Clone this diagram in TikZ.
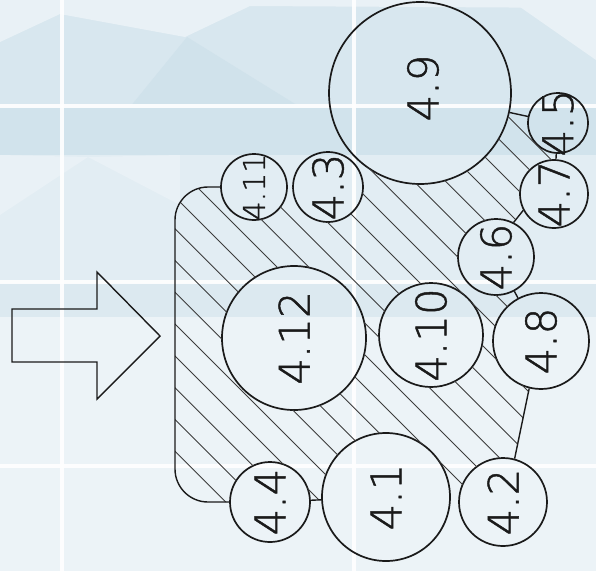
\documentclass[tikz,border=0pt]{standalone}
\usepackage{fontspec}
\newfontfamily\lblfont{DejaVuSans-ExtraLight.ttf}[RawFeature={embolden=1.1}]
\definecolor{bgL}{HTML}{ECF3F7}
\definecolor{bgM}{HTML}{D8E7EF}
\definecolor{bgD}{HTML}{D1E3EC}
\definecolor{bgK}{HTML}{D0E2EB}
\definecolor{bgT}{HTML}{E9F1F6}
\definecolor{bgU}{HTML}{E2EDF3}
\definecolor{bgS}{HTML}{DCE9F0}
\definecolor{ink}{HTML}{1A1A1A}
\begin{document}
\begin{tikzpicture}[x=1pt,y=-1pt,
  ring/.style={circle,draw=ink,line width=1.7pt,inner sep=0pt},
  lab/.style={rotate=90,font=\lblfont\fontsize{42}{42}\selectfont,inner sep=0pt,text=ink},
  conn/.style={draw=ink,line width=1.4pt},
  hatchline/.style={draw=ink!85,line width=0.9pt},
  gridline/.style={draw=white,line width=4pt,opacity=0.9}]
\useasboundingbox (0,0) rectangle (596,571);
% background
\fill[bgL] (0,0) rectangle (596,571);
\fill[bgM] (0,0) rectangle (596,107);
\fill[bgT] (0,0) -- (596,0) -- (596,8) -- (250,6) -- (185,37) -- (60,14) -- (0,42) -- cycle;
\fill[bgK] (130,107) -- (187,37) -- (300,107) -- cycle;
\fill[bgT] (510,0) -- (596,0) -- (596,60) -- cycle;
\fill[bgD] (0,107) rectangle (596,155);
\fill[bgU] (0,155) rectangle (596,283);
\fill[bgT] (0,155) -- (88,157) -- (0,215) -- cycle;
\fill[bgT] (88,157) -- (180,155) -- (180,205) -- cycle;
\fill[bgS] (0,283) rectangle (596,317);
\draw[gridline] (62,0) -- (62,571);
\draw[gridline] (354,0) -- (354,571);
\draw[gridline] (0,106) -- (596,106);
\draw[gridline] (0,282) -- (596,282);
\draw[gridline] (0,466) -- (596,466);
% circles
\node[ring,minimum size=182pt] (c49) at (420,93) {};
\node[ring,minimum size=60pt] (c45) at (558,123) {};
\node[ring,minimum size=68pt] (c47) at (554,194) {};
\node[ring,minimum size=76pt] (c46) at (496,257) {};
\node[ring,minimum size=70pt] (c43) at (328,187) {};
\node[ring,minimum size=66pt] (c411) at (254,187) {};
\node[ring,minimum size=144pt] (c412) at (294,338) {};
\node[ring,minimum size=104pt] (c410) at (431,335) {};
\node[ring,minimum size=96pt] (c48) at (541,341) {};
\node[ring,minimum size=128pt] (c41) at (386,497) {};
\node[ring,minimum size=88pt] (c42) at (503,502) {};
\node[ring,minimum size=80pt] (c44) at (270,502) {};
% hatching
\begin{scope}
\clip (c411.center) -- (c43.center) -- (c49.center) -- (c45.center) -- (c47.center)
  -- (c47.208) -- (c46.63) -- (c46.center) -- (c48.center) -- (c48.256) -- (c42.75)
  -- (c42.center) -- (c41.center) -- (c44.center) -- (208,502)
  .. controls (189.8,502) and (175,487.2) .. (175,469) -- (175,220)
  .. controls (175,201.8) and (189.8,187) .. (208,187) -- cycle;
\begin{scope}[even odd rule]
\clip (-10,-10) rectangle (610,590)
  (c49.center) circle[radius=91] (c45.center) circle[radius=30]
  (c47.center) circle[radius=34] (c46.center) circle[radius=38]
  (c43.center) circle[radius=35] (c411.center) circle[radius=33]
  (c412.center) circle[radius=72] (c410.center) circle[radius=52]
  (c48.center) circle[radius=48] (c41.center) circle[radius=64]
  (c42.center) circle[radius=44] (c44.center) circle[radius=40];
\foreach \k in {-26,...,12}{
  \draw[hatchline] (0,212.7+31.8*\k) -- (620,832.7+31.8*\k);
}
\end{scope}
\end{scope}
% outline of the hatched area
\draw[conn] (c411.west) -- (208,187) .. controls (189.8,187) and (175,201.8) .. (175,220)
  -- (175,469) .. controls (175,487.2) and (189.8,502) .. (208,502) -- (c44.west);
% connectors
\draw[conn] (c49) -- (c45);
\draw[conn] (c45) -- (c47);
\draw[conn] (c47.208) -- (c46.63);
\draw[conn] (c46) -- (c48);
\draw[conn] (c48.256) -- (c42.75);
\draw[conn] (c44) -- (c41);
% arrow
\draw[conn,line join=miter] (12,309) -- (97,309) -- (97,272) -- (160,336) -- (97,399) -- (97,362) -- (12,362) -- cycle;
% labels
\node[lab] (l49) at ([xshift=3pt,yshift=5pt]c49.center) {4.9};
\node[lab] (l45) at (c45) {4.5};
\node[lab] (l47) at (c47) {4.7};
\node[lab] (l46) at (c46) {4.6};
\node[lab] (l43) at (c43) {4.3};
\node[lab,font=\lblfont\fontsize{30}{30}\selectfont] (l411) at (c411) {4.11};
\node[lab] (l412) at (c412) {4.12};
\node[lab] (l410) at (c410) {4.10};
\node[lab] (l48) at (c48) {4.8};
\node[lab] (l41) at (c41) {4.1};
\node[lab] (l42) at (c42) {4.2};
\node[lab] (l44) at (c44) {4.4};
\end{tikzpicture}
\end{document}
